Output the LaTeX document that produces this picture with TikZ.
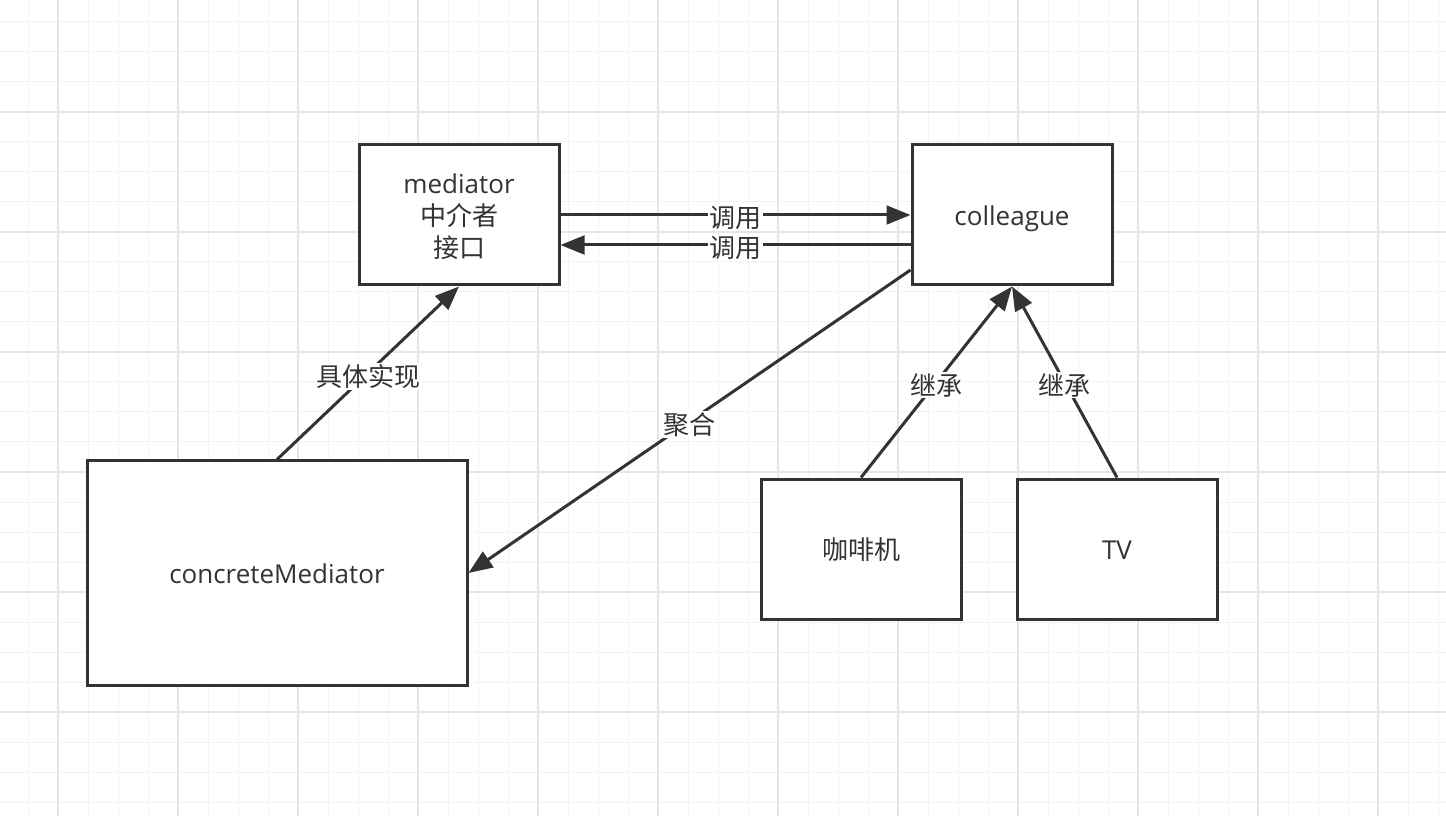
\documentclass[tikz,border=0pt]{standalone}
\usepackage{fontspec}
\setmainfont{Open Sans}
\newfontfamily\cjk{Noto Sans CJK SC}
\usepackage{tikz}
\usetikzlibrary{arrows.meta}
\definecolor{ink}{HTML}{333333}
\definecolor{gridminor}{HTML}{F2F2F2}
\definecolor{gridmajor}{HTML}{E6E6E6}
\tikzset{
    box/.style={draw=ink, line width=2.25pt, fill=white, text=ink,
        minimum width=150pt, minimum height=105pt, align=center,
        font=\fontsize{19.5pt}{24pt}\selectfont},
    oneline/.style={text height=20pt, text depth=4.5pt},
    link/.style={draw=ink, line width=2.25pt,
        -{Triangle[length=18pt,width=14pt]}},
    lbl/.style={fill=white, text=ink, inner sep=1pt, yshift=-2.4pt,
        font=\cjk\fontsize{19.5pt}{24pt}\selectfont},
}

\begin{document}
\begin{tikzpicture}[x=0.75pt, y=-0.75pt]
    \useasboundingbox (0,0) rectangle (1446,816);
    \fill[white] (0,0) rectangle (1446,816);
    % grid
    \foreach \x in {28,58,...,1438} \draw[gridminor, line width=0.75pt] (\x,0) -- (\x,816);
    \foreach \y in {22,52,...,802} \draw[gridminor, line width=0.75pt] (0,\y) -- (1446,\y);
    \foreach \x in {58,178,...,1378} \draw[gridmajor, line width=0.9pt] (\x,0) -- (\x,816);
    \foreach \y in {112,232,...,712} \draw[gridmajor, line width=0.9pt] (0,\y) -- (1446,\y);

    \node[box] (M) at (459,215) {\rule{0pt}{17.8pt}mediator\\{\cjk 中介者}\\{\cjk 接口}};
    \node[box, oneline] (C) at (1012,215) {colleague};
    \node[box, oneline, minimum width=285pt, minimum height=168pt] (CM) at (277,573) {concreteMediator};
    \node[box, oneline] (K) at (861,549) {{\cjk 咖啡机}};
    \node[box, oneline] (TV) at (1117,549) {TV};

    \draw[link] (M.east) to node [lbl] {调用} (C.west);
    \draw[link] ([yshift=-22.5pt]C.west) to node [lbl] {调用} ([yshift=-22.5pt]M.east);
    \draw[link] (CM.north) to node [lbl] {具体实现} (M.south);
    \draw[link] ([yshift=-41.25pt]C.west) to node [lbl] {聚合} (CM.east);
    \draw[link] (K.north) to node [lbl] {继承} (C.south);
    \draw[link] (TV.north) to node [lbl] {继承} (C.south);
\end{tikzpicture}
\end{document}
